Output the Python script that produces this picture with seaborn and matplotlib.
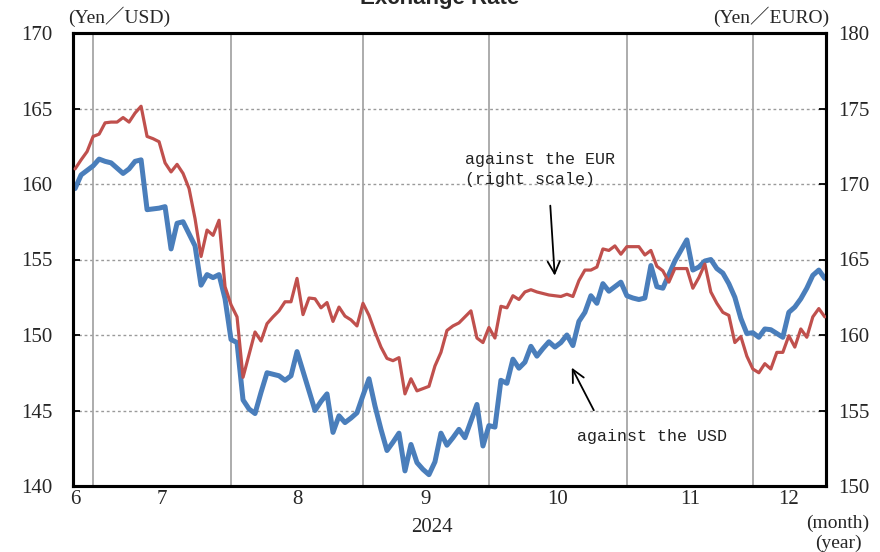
import pandas as pd
import matplotlib.pyplot as plt
import seaborn as sns

# weekdays shown on the axis (25 Jun - 17 Dec 2024)
dates = pd.bdate_range('2024-06-25', '2024-12-17')

# Yen per USD (left scale), one value per weekday
usd_jpy = [
    159.7, 160.6, 160.9, 161.2, 161.65, 161.5, 161.4, 161.05, 160.7, 161.0,
    161.5, 161.6, 158.3, 158.35, 158.4, 158.5, 155.7, 157.4, 157.5, 156.7,
    155.9, 153.3, 154.0, 153.8, 154.0, 152.4, 149.7, 149.5, 145.7, 145.1,
    144.8, 146.2, 147.5, 147.4, 147.3, 147.0, 147.3, 148.9, 147.6, 146.3,
    145.0, 145.6, 146.1, 143.55, 144.65, 144.2, 144.5, 144.85, 146.0, 147.1,
    145.3, 143.75, 142.35, 142.9, 143.5, 141.0, 142.75, 141.55, 141.1, 140.75,
    141.6, 143.5, 142.7, 143.2, 143.75, 143.2, 144.3, 145.4, 142.65, 144.0,
    143.9, 147.0, 146.8, 148.4, 147.8, 148.2, 149.25, 148.6, 149.1, 149.55,
    149.2, 149.5, 150.0, 149.3, 150.9, 151.5, 152.6, 152.1, 153.4, 152.9,
    153.2, 153.5, 152.6, 152.45, 152.35, 152.45, 154.6, 153.2, 153.1, 154.0,
    154.9, 155.6, 156.3, 154.3, 154.5, 154.9, 155.0, 154.4, 154.1, 153.4,
    152.5, 151.1, 150.1, 150.15, 149.85, 150.4, 150.35, 150.1, 149.85, 151.5,
    151.85, 152.4, 153.1, 153.95, 154.3, 153.75,
]

# Yen per EUR (right scale)
eur_jpy = [
    171.0, 171.6, 172.15, 173.15, 173.3, 174.05, 174.1, 174.1, 174.4, 174.1,
    174.7, 175.15, 173.15, 173.0, 172.8, 171.4, 170.8, 171.3, 170.7, 169.7,
    167.7, 165.2, 166.95, 166.6, 167.6, 163.2, 162.0, 161.2, 157.2, 158.7,
    160.2, 159.6, 160.75, 161.2, 161.6, 162.2, 162.2, 163.75, 161.35, 162.45,
    162.4, 161.8, 162.15, 160.9, 161.85, 161.25, 161.0, 160.6, 162.1, 161.3,
    160.2, 159.2, 158.45, 158.3, 158.5, 156.1, 157.1, 156.3, 156.45, 156.6,
    157.95, 158.85, 160.3, 160.6, 160.8, 161.2, 161.6, 159.8, 159.5, 160.5,
    159.8, 161.9, 161.8, 162.6, 162.35, 162.85, 163.0, 162.85, 162.75, 162.65,
    162.6, 162.55, 162.7, 162.55, 163.6, 164.3, 164.3, 164.5, 165.7, 165.6,
    165.9, 165.35, 165.85, 165.85, 165.85, 165.3, 165.6, 164.55, 164.25, 163.5,
    164.4, 164.4, 164.4, 163.1, 163.8, 164.7, 162.85, 162.1, 161.5, 161.3,
    159.5, 159.9, 158.6, 157.75, 157.5, 158.1, 157.75, 158.85, 158.85, 159.95,
    159.2, 160.4, 159.85, 161.2, 161.75, 161.2,
]

df = pd.DataFrame({'pos': range(len(dates)), 'date': dates,
                   'usd': usd_jpy, 'eur': eur_jpy})

sns.set_theme(style='white')
serif = ['Liberation Serif', 'Noto Sans CJK JP']
mono = ['Liberation Mono', 'Noto Sans CJK JP']
plt.rcParams['font.family'] = serif

W, H = 880, 552
fig = plt.figure(figsize=(W / 100, H / 100), dpi=100)
ax1 = fig.add_axes([73 / W, 1 - 486 / H, (826 - 73) / W, (486 - 33) / H])
ax2 = ax1.twinx()

# month boundaries = last weekday of each month
month_end = df.groupby(df['date'].dt.month)['pos'].max()
months = list(month_end.index)
ends = list(month_end.values)
label_pos = [0] + [(ends[k - 1] + ends[k]) / 2 for k in range(1, len(ends))]

ax1.grid(axis='y', color='#9a9a9a', linestyle=(0, (2, 2)), linewidth=1)
for p in ends[:-1]:
    ax1.axvline(p, color='#a6a6a6', linewidth=1.3, zorder=1)

sns.lineplot(data=df, x='pos', y='usd', ax=ax1, color='#4a7ebb',
             linewidth=3.6, zorder=3)
sns.lineplot(data=df, x='pos', y='eur', ax=ax2, color='#c0504d',
             linewidth=2.3, zorder=3)

ax1.set_xlim(-0.35, 125.2)
ax1.set_ylim(140, 170)
ax2.set_ylim(150, 180)
ax1.set_yticks(range(140, 171, 5))
ax2.set_yticks(range(150, 181, 5))
ax1.set_xticks(label_pos)
ax1.set_xticklabels([str(m) for m in months])
for ax in (ax1, ax2):
    ax.set_xlabel('')
    ax.set_ylabel('')
    for s in ax.spines.values():
        s.set_color('black')
        s.set_linewidth(2.2)
ax1.tick_params(axis='y', direction='in', length=5, width=1.3,
                color='black', pad=15, labelsize=15)
ax2.tick_params(axis='y', direction='in', length=5, width=1.3,
                color='black', pad=9, labelsize=15)
ax1.tick_params(axis='x', length=0, pad=3, labelsize=15)

# texts
fig.text(0.5, 1 - 4 / H, 'Exchange Rate', ha='center', va='baseline',
         fontsize=16, fontweight='bold', family='Liberation Sans')
fig.text(68 / W, 1 - 17 / H, '(Yen／USD)', ha='left', va='center',
         fontsize=14, family=serif)
fig.text(829 / W, 1 - 17 / H, '(Yen／EURO)', ha='right', va='center',
         fontsize=14, family=serif)
fig.text(432 / W, 1 - 528 / H, '2024', ha='center', va='center', fontsize=15)
fig.text(838 / W, 1 - 523 / H, '(month)', ha='center', va='center', fontsize=14)
fig.text(838 / W, 1 - 543 / H, '(year)', ha='center', va='center', fontsize=14)

ax1.text(65, 162.15, 'against the EUR\n(right scale)', ha='left', va='top',
         fontsize=12, family=mono, linespacing=1.45, color='#222222')
ax1.text(83.7, 143.3, 'against the USD', ha='left', va='center',
         fontsize=12, family=mono, color='#222222')
ax1.annotate('', xy=(80.0, 153.75), xytext=(79.2, 158.75),
             arrowprops=dict(arrowstyle='->', color='black', lw=1.3,
                             mutation_scale=22))
ax1.annotate('', xy=(82.6, 148.0), xytext=(86.7, 144.85),
             arrowprops=dict(arrowstyle='->', color='black', lw=1.3,
                             mutation_scale=22))

fig.savefig('out.png', dpi=100)
